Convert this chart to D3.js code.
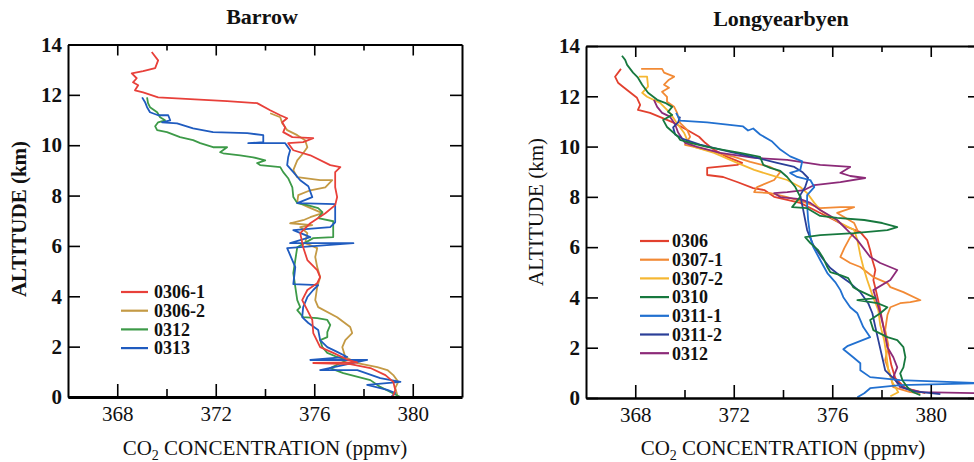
<!DOCTYPE html>
<html>
<head>
<meta charset="utf-8">
<script src="https://cdn.jsdelivr.net/npm/d3@7"></script>
<style>
body { margin: 0; background: #fff; }
svg { display: block; font-family: "Liberation Serif", "Times New Roman", serif; }
</style>
</head>
<body>
<script>
// axis values
var xDomain = [366, 382];
var yDomain = [0, 14];
var xTicks = [368, 370, 372, 374, 376, 378, 380];
var xLabelTicks = [368, 372, 376, 380];
var yTicks = [0, 2, 4, 6, 8, 10, 12, 14];

// Barrow profiles [CO2 ppmv, altitude km]
var barrowNames = ["0306-1", "0306-2", "0312", "0313"];
var barrowColors = ["#e8403a", "#c49a45", "#3d9a48", "#1f5bbf"];

var barrow0306_1 = [[369.40,13.70],[369.66,13.37],[369.54,13.06],[369.05,12.94],[368.59,12.85],[368.79,12.66],[368.64,12.50],[368.85,12.38],[368.72,12.18],[369.05,12.10],[369.66,11.90],[372.46,11.75],[373.68,11.67],[374.21,11.39],[374.62,11.19],[374.90,11.07],[374.70,10.91],[374.82,10.71],[374.74,10.52],[375.11,10.32],[375.96,10.28],[375.55,10.12],[374.94,10.08],[375.15,9.80],[375.84,9.60],[376.65,9.21],[377.06,9.13],[376.85,8.93],[376.85,8.33],[376.93,7.94],[376.85,7.62],[376.45,7.30],[375.84,6.90],[375.43,6.51],[375.55,5.95],[375.72,5.44],[376.12,5.04],[376.24,4.76],[376.12,4.52],[375.72,4.25],[375.51,3.85],[375.72,3.45],[375.92,3.06],[375.96,2.54],[376.24,1.98],[376.77,1.75],[377.38,1.47],[377.75,1.37],[375.96,1.35],[377.46,1.31],[378.28,1.15],[378.89,0.87],[379.21,0.60],[379.29,0.28],[379.20,0.04]];

var barrow0306_2 = [[374.21,11.27],[374.62,11.11],[374.70,10.87],[374.90,10.60],[375.31,10.40],[375.63,10.20],[375.72,9.92],[375.55,9.68],[375.31,9.40],[375.15,9.01],[375.31,8.73],[376.24,8.61],[376.73,8.61],[376.45,8.33],[375.84,8.21],[375.35,8.02],[375.31,7.74],[375.76,7.54],[376.33,7.30],[375.84,7.14],[375.55,7.02],[375.02,6.90],[375.92,6.83],[375.43,6.75],[375.72,6.51],[375.63,6.11],[376.12,5.91],[376.04,5.56],[376.12,5.16],[376.24,4.76],[376.12,4.37],[376.04,3.85],[376.16,3.57],[376.93,3.17],[377.46,2.78],[377.54,2.54],[377.26,2.26],[377.14,1.98],[377.26,1.59],[377.75,1.35],[378.56,1.19],[378.97,1.07],[379.21,0.87],[379.41,0.60],[379.29,0.36],[379.37,0.08]];

var barrow0312 = [[369.21,11.90],[369.25,11.67],[369.33,11.51],[369.62,11.31],[369.74,11.11],[369.94,10.99],[369.66,10.91],[369.54,10.75],[369.62,10.60],[370.02,10.52],[370.55,10.32],[371.08,10.20],[371.37,10.08],[371.89,9.92],[372.46,9.92],[372.18,9.72],[372.30,9.68],[372.99,9.60],[373.52,9.52],[374.01,9.40],[373.68,9.29],[373.80,9.21],[374.62,9.13],[374.74,8.93],[374.94,8.69],[375.11,8.33],[375.15,7.94],[375.31,7.70],[375.72,7.62],[376.16,7.50],[376.33,7.34],[376.16,7.10],[376.77,6.98],[376.77,6.35],[375.96,6.31],[375.31,5.95],[375.23,5.44],[375.15,4.92],[375.23,4.37],[375.31,3.85],[375.43,3.57],[375.31,3.45],[375.55,3.17],[376.12,3.13],[376.53,3.06],[376.65,2.86],[376.53,2.58],[376.53,2.38],[376.24,2.26],[376.33,1.98],[376.53,1.75],[376.93,1.59],[377.34,1.47],[376.65,1.15],[377.18,0.95],[378.28,0.67],[378.68,0.40],[379.09,0.20],[379.50,0.00]];

var barrow0313 = [[369.01,11.90],[369.13,11.71],[369.21,11.51],[369.33,11.31],[369.66,11.19],[370.07,11.19],[370.15,10.99],[369.82,10.91],[370.43,10.87],[371.08,10.67],[371.89,10.52],[373.28,10.48],[373.93,10.40],[373.93,10.12],[373.32,10.08],[374.82,10.08],[375.02,9.80],[374.94,9.52],[374.90,9.21],[375.15,8.93],[375.43,8.61],[375.76,8.37],[375.92,7.94],[375.31,7.70],[376.85,7.66],[376.85,6.94],[376.65,6.75],[375.15,6.63],[375.84,6.35],[375.02,6.11],[377.59,6.11],[374.90,5.91],[375.23,5.16],[375.15,4.48],[376.16,4.44],[375.96,4.25],[375.72,3.97],[375.55,3.57],[375.51,3.17],[375.76,2.94],[376.16,2.66],[376.24,2.26],[376.53,1.98],[376.93,1.79],[377.34,1.59],[375.84,1.47],[378.15,1.47],[376.24,1.07],[377.75,1.07],[378.68,0.75],[379.50,0.60],[378.15,0.48],[378.97,0.28],[379.29,0.16],[379.13,0.00]];

// Longyearbyen profiles [CO2 ppmv, altitude km]
var longNames = ["0306", "0307-1", "0307-2", "0310", "0311-1", "0311-2", "0312"];
var longColors = ["#e2402e", "#f28a35", "#f5b731", "#17783e", "#2170d0", "#2b3f98", "#8c2a78"];

var long0306 = [[367.42,13.09],[367.18,12.78],[367.30,12.54],[367.50,12.38],[368.07,11.94],[368.20,11.66],[368.11,11.46],[368.60,11.34],[369.09,11.14],[369.58,10.94],[370.11,10.66],[370.59,10.39],[370.84,10.15],[371.20,9.87],[371.73,9.59],[372.34,9.35],[372.14,9.27],[370.92,9.15],[370.92,8.87],[371.57,8.79],[372.14,8.59],[372.79,8.35],[373.24,8.27],[373.64,8.00],[374.70,7.76],[375.51,7.36],[376.08,7.08],[376.61,6.80],[377.14,6.60],[377.42,6.28],[377.54,5.88],[377.63,5.49],[377.75,5.09],[377.67,4.69],[377.79,4.21],[377.91,3.69],[378.03,3.10],[378.15,2.50],[378.28,1.90],[378.40,1.30],[378.56,0.79],[378.97,0.39],[379.78,0.19]];

var long0307_1 = [[368.24,13.09],[369.09,13.09],[369.17,12.94],[369.58,12.78],[369.37,12.66],[369.17,12.46],[369.37,12.34],[369.09,12.18],[369.29,11.98],[369.29,11.78],[369.58,11.58],[369.70,11.34],[369.82,10.94],[370.11,10.66],[370.23,10.39],[370.02,10.07],[370.39,9.99],[371.20,9.79],[372.02,9.59],[372.67,9.39],[373.48,9.19],[373.89,8.99],[373.64,8.67],[372.95,8.39],[372.83,8.19],[373.48,8.15],[374.17,7.99],[374.86,7.79],[375.51,7.55],[376.33,7.59],[376.89,7.59],[376.20,7.36],[376.89,6.96],[377.02,6.68],[376.73,6.40],[376.49,5.96],[376.33,5.61],[376.73,5.37],[377.14,5.21],[377.67,4.81],[378.24,4.57],[378.36,4.41],[378.89,4.21],[379.58,3.89],[379.17,3.81],[378.76,3.77],[378.36,3.61],[378.24,3.30],[378.15,2.70],[378.28,2.10],[378.15,1.50],[378.36,0.91],[378.48,0.43],[379.17,0.23],[379.58,0.19]];

var long0307_2 = [[368.15,12.78],[368.48,12.78],[368.52,12.38],[368.28,12.14],[368.48,11.98],[369.01,11.74],[369.41,11.34],[369.66,10.98],[369.98,10.55],[370.11,10.27],[370.39,9.99],[371.20,9.75],[372.14,9.35],[372.83,9.07],[373.48,8.87],[374.17,8.67],[374.70,8.39],[374.98,8.15],[375.27,7.76],[375.51,7.48],[375.92,7.20],[376.33,6.96],[376.89,6.68],[377.02,6.28],[377.14,5.68],[377.26,5.21],[377.42,4.69],[377.63,4.09],[377.87,3.49],[377.95,2.89],[378.11,2.30],[378.20,1.70],[378.28,1.10],[378.44,0.63],[378.68,0.23],[378.36,0.07]];

var long0310 = [[367.46,13.61],[367.59,13.45],[367.67,13.25],[367.91,12.94],[368.11,12.74],[368.28,12.46],[368.52,12.14],[368.89,11.86],[369.21,11.74],[369.50,11.58],[369.33,11.38],[369.50,11.26],[369.13,11.06],[369.29,10.78],[369.74,10.39],[369.82,10.27],[370.23,10.15],[370.92,9.99],[371.57,9.87],[372.26,9.75],[373.07,9.59],[373.20,9.27],[373.48,9.15],[373.89,9.03],[374.17,8.79],[374.50,8.39],[374.70,8.00],[374.37,7.59],[374.98,7.55],[375.51,7.24],[376.20,7.16],[377.30,7.08],[378.03,6.96],[378.64,6.80],[378.24,6.68],[376.89,6.56],[375.51,6.48],[374.90,6.40],[375.11,6.16],[375.43,5.88],[375.63,5.57],[375.80,5.21],[375.92,5.01],[376.33,4.89],[376.65,4.77],[376.85,4.41],[377.06,4.29],[377.75,3.97],[377.02,3.89],[377.83,3.77],[378.24,3.61],[377.95,3.37],[377.54,3.10],[377.67,2.70],[378.24,2.42],[378.64,2.30],[378.89,2.02],[378.97,1.62],[378.89,1.22],[378.76,0.98],[378.85,0.71],[379.05,0.43],[379.29,0.23],[379.58,0.11]];

var long0311_1 = [[369.66,11.34],[369.82,11.03],[370.92,10.96],[372.38,10.80],[372.58,10.64],[372.79,10.72],[373.07,10.48],[373.56,10.20],[373.89,9.88],[374.29,9.61],[374.78,9.41],[374.70,9.07],[374.29,8.95],[374.58,8.79],[375.11,8.67],[375.27,8.39],[374.98,8.07],[374.98,7.67],[375.02,7.08],[375.11,6.40],[375.23,6.00],[375.51,5.49],[375.80,4.97],[376.12,4.61],[376.33,4.29],[376.45,4.01],[376.73,3.61],[377.02,3.37],[377.14,3.10],[377.26,2.82],[377.54,2.42],[376.61,2.06],[376.45,1.94],[376.85,1.62],[377.14,1.38],[377.14,1.10],[377.54,0.83],[378.76,0.71],[382.20,0.59],[378.76,0.51],[377.54,0.39],[377.30,0.19],[377.02,0.03]];

var long0311_2 = [[369.82,11.19],[369.74,10.96],[369.54,10.76],[369.62,10.48],[369.90,10.32],[370.63,10.08],[371.85,9.79],[372.95,9.55],[373.76,9.35],[374.46,9.19],[374.78,8.99],[375.02,8.75],[374.90,8.39],[374.70,8.07],[374.82,7.48],[374.98,6.68],[375.23,6.08],[375.59,5.57],[375.92,5.17],[376.33,4.85],[376.73,4.57],[377.14,4.21],[377.46,3.77],[377.63,3.37],[377.75,2.82],[377.87,2.30],[378.03,1.62],[378.15,1.10],[378.56,0.71],[378.85,0.43],[379.25,0.27],[380.39,0.15]];

var long0312 = [[368.76,11.86],[368.89,11.58],[369.09,11.34],[369.41,11.19],[369.62,10.88],[369.74,10.56],[370.02,10.15],[370.51,9.99],[371.45,9.75],[372.83,9.55],[374.17,9.47],[375.51,9.27],[376.73,9.19],[376.33,8.95],[376.73,8.83],[377.34,8.75],[376.33,8.59],[375.27,8.47],[374.86,8.27],[374.17,8.19],[373.64,8.15],[373.89,7.99],[374.70,7.91],[375.11,7.76],[375.51,7.48],[376.20,7.08],[376.61,6.68],[377.02,6.28],[377.54,5.61],[377.95,5.37],[378.64,5.09],[378.36,4.69],[377.67,4.29],[377.79,3.89],[377.95,3.37],[378.11,2.70],[378.24,2.02],[378.48,1.62],[378.64,1.22],[378.48,0.83],[378.76,0.43],[379.58,0.23],[382.20,0.19]];

var svg = d3.select("body").append("svg").attr("width", 974).attr("height", 462);

function drawPanel(p) {
  var x = d3.scaleLinear().domain(xDomain).range([p.left, p.right]);
  var y = d3.scaleLinear().domain(yDomain).range([p.bottom, p.top]);
  var g = svg.append("g");

  g.append("clipPath").attr("id", p.id + "-clip")
    .append("rect")
      .attr("x", p.left).attr("y", p.top)
      .attr("width", p.right - p.left).attr("height", p.bottom - p.top);

  var line = d3.line().x(function(d){ return x(d[0]); }).y(function(d){ return y(d[1]); });

  var series = p.names.map(function(n, i){ return { name: n, values: p.data[i], color: p.colors[i] }; });

  g.append("g").attr("clip-path", "url(#" + p.id + "-clip)")
    .selectAll("path")
    .data(p.order.map(function(i){ return series[i]; }))
    .enter().append("path")
      .attr("d", function(d){ return line(d.values); })
      .attr("fill", "none")
      .attr("stroke", function(d){ return d.color; })
      .attr("stroke-width", 1.8)
      .attr("stroke-linejoin", "round");

  // bottom axis
  var bx = g.append("g").attr("transform", "translate(0," + p.bottom + ")")
    .call(d3.axisBottom(x).tickValues(xTicks).tickSizeInner(-13).tickSizeOuter(0).tickPadding(9)
      .tickFormat(function(d){ return xLabelTicks.indexOf(d) >= 0 ? d : ""; }));
  bx.selectAll(".tick line").attr("y2", function(d){ return xLabelTicks.indexOf(d) >= 0 ? -13 : -8; })
    .attr("stroke-width", 1.6);
  bx.select(".domain").attr("stroke-width", p.bottomWidth);

  // top axis
  var tx = g.append("g").attr("transform", "translate(0," + p.top + ")")
    .call(d3.axisTop(x).tickValues(xTicks).tickSizeInner(-11).tickSizeOuter(0).tickFormat(""));
  tx.selectAll(".tick line").attr("y2", function(d){ return xLabelTicks.indexOf(d) >= 0 ? 11 : 6; })
    .attr("stroke-width", 1.6);
  tx.select(".domain").attr("stroke-width", 2);

  // left axis
  var ly = g.append("g").attr("transform", "translate(" + p.left + ",0)")
    .call(d3.axisLeft(y).tickValues(yTicks).tickSizeInner(-12).tickSizeOuter(0).tickPadding(6));
  ly.selectAll(".tick line").attr("stroke-width", 1.6);
  ly.select(".domain").attr("stroke-width", 2);

  // right axis
  var ry = g.append("g").attr("transform", "translate(" + p.right + ",0)")
    .call(d3.axisRight(y).tickValues(yTicks).tickSizeInner(-12).tickSizeOuter(0).tickFormat(""));
  ry.selectAll(".tick line").attr("stroke-width", 1.6);
  ry.select(".domain").attr("stroke-width", 2);

  g.selectAll(".tick text").attr("font-family", "Liberation Serif").attr("font-size", 21).attr("fill", "#111");
  bx.selectAll(".tick text").attr("font-weight", "normal");
  ly.selectAll(".tick text").attr("font-weight", "bold");

  // title
  g.append("text")
    .attr("x", p.titleX).attr("y", p.titleY)
    .attr("text-anchor", "middle")
    .attr("font-size", 22).attr("font-weight", "bold")
    .attr("fill", "#111")
    .text(p.title);

  // x title with subscript
  var xt = g.append("text")
    .attr("x", p.xTitleX).attr("y", 455)
    .attr("text-anchor", "middle")
    .attr("font-size", 21).attr("fill", "#111");
  xt.append("tspan").text("CO");
  xt.append("tspan").attr("font-size", 14).attr("dy", 5).text("2");
  xt.append("tspan").attr("dy", -5).text(" CONCENTRATION (ppmv)");

  // y title
  g.append("text")
    .attr("transform", "translate(" + p.yTitleX + "," + p.yTitleY + ") rotate(-90)")
    .attr("text-anchor", "middle")
    .attr("font-size", 21).attr("font-weight", p.yTitleWeight)
    .attr("fill", "#111")
    .text("ALTITUDE (km)");

  // legend
  var leg = g.selectAll("g.legend")
    .data(series)
    .enter().append("g")
      .attr("class", "legend")
      .attr("transform", function(d, i){ return "translate(0," + (p.legendY + i * p.legendStep) + ")"; });
  leg.append("line")
    .attr("x1", p.legendX1).attr("x2", p.legendX2)
    .attr("y1", 0).attr("y2", 0)
    .attr("stroke", function(d){ return d.color; })
    .attr("stroke-width", 2.2);
  leg.append("text")
    .attr("x", p.legendTextX).attr("y", 0)
    .attr("dy", "0.35em")
    .attr("font-size", 18).attr("font-weight", "bold")
    .attr("fill", "#111")
    .text(function(d){ return d.name; });
}

drawPanel({
  id: "barrow", title: "Barrow",
  left: 68, right: 462, top: 44.5, bottom: 397,
  names: barrowNames, colors: barrowColors,
  data: [barrow0306_1, barrow0306_2, barrow0312, barrow0313],
  order: [1, 2, 3, 0],
  bottomWidth: 3,
  titleX: 262, titleY: 24,
  xTitleX: 265, yTitleX: 26, yTitleY: 219, yTitleWeight: "bold",
  legendY: 292, legendStep: 18.7, legendX1: 121, legendX2: 148, legendTextX: 154
});

drawPanel({
  id: "longyearbyen", title: "Longyearbyen",
  left: 586, right: 980, top: 46, bottom: 398,
  names: longNames, colors: longColors,
  data: [long0306, long0307_1, long0307_2, long0310, long0311_1, long0311_2, long0312],
  order: [0, 1, 2, 6, 5, 4, 3],
  bottomWidth: 2.5,
  titleX: 781, titleY: 26,
  xTitleX: 783, yTitleX: 543, yTitleY: 212, yTitleWeight: "normal",
  legendY: 241, legendStep: 18.7, legendX1: 640, legendX2: 669, legendTextX: 672
});
</script>
</body>
</html>
